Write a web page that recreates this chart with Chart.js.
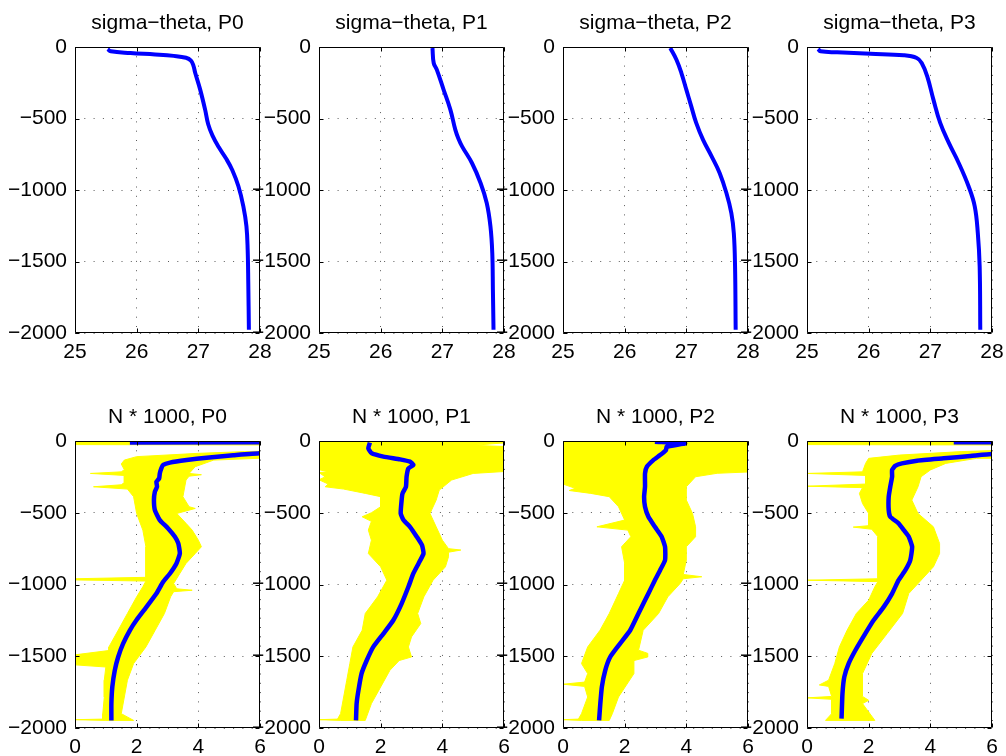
<!DOCTYPE html>
<html>
<head>
<meta charset="utf-8">
<title>sigma-theta and N profiles</title>
<script src="https://cdn.jsdelivr.net/npm/chart.js@4/dist/chart.umd.min.js"></script>
<style>
  body { margin: 0; background: #fff; }
  #fig { position: relative; width: 1006px; height: 756px; background: #fff; overflow: hidden; }
  #fig canvas { position: absolute; }
</style>
</head>
<body>
<div id="fig"></div>
<script>
// ---- data (depth in m, negative down) ----

const stations = ['P0', 'P1', 'P2', 'P3'];
const sigmaTicks = [25, 26, 27, 28];
const nTicks = [0, 2, 4, 6];
const depthTicks = [-2000, -1500, -1000, -500, 0];

// sigma-theta mean profiles
const sigmaDepthP0 = [-15, -30, -42, -52, -62, -75, -95, -130, -182, -298, -438, -540, -620, -700, -780, -860, -974, -1114, -1254, -1417, -1650, -1977];
const sigmaP0 = [25.53, 25.58, 25.9, 26.3, 26.6, 26.8, 26.88, 26.92, 26.95, 27.03, 27.11, 27.16, 27.23, 27.33, 27.45, 27.55, 27.65, 27.73, 27.78, 27.80, 27.81, 27.82];
const sigmaDepthP1 = [-7, -112, -158, -298, -438, -578, -640, -695, -811, -951, -1091, -1254, -1441, -1697, -1977];
const sigmaP1 = [26.84, 26.86, 26.91, 27.02, 27.13, 27.21, 27.26, 27.32, 27.48, 27.62, 27.72, 27.78, 27.81, 27.82, 27.83];
const sigmaDepthP2 = [-7, -89, -182, -298, -415, -531, -648, -765, -881, -1021, -1161, -1301, -1534, -1977];
const sigmaP2 = [26.74, 26.84, 26.92, 27.00, 27.08, 27.16, 27.27, 27.41, 27.54, 27.65, 27.73, 27.77, 27.79, 27.80];
const sigmaDepthP3 = [-14, -30, -37, -47, -58, -77, -112, -205, -368, -531, -671, -811, -974, -1114, -1301, -1534, -1977];
const sigmaP3 = [25.18, 25.22, 25.49, 26.03, 26.57, 26.78, 26.86, 26.95, 27.05, 27.16, 27.30, 27.46, 27.62, 27.72, 27.77, 27.80, 27.81];

// N * 1000 mean profiles
const nMeanDepthP0 = [-10, -14, -70, -86, -100, -116, -133, -151, -167, -191, -226, -260, -284, -319, -353, -412, -481, -551, -609, -667, -714, -784, -853, -923, -981, -1063, -1156, -1249, -1319, -1412, -1505, -1598, -1714, -1830, -1947];
const nMeanP0 = [1.78, 14, 14, 6.0, 5.13, 4.27, 3.62, 3.08, 2.86, 2.80, 2.75, 2.73, 2.64, 2.66, 2.59, 2.56, 2.59, 2.75, 3.02, 3.24, 3.35, 3.40, 3.29, 3.08, 2.86, 2.64, 2.32, 1.99, 1.78, 1.56, 1.40, 1.29, 1.21, 1.18, 1.18];
const nMeanDepthP1 = [-12, -51, -86, -109, -128, -144, -167, -191, -249, -319, -365, -412, -505, -551, -598, -667, -726, -784, -853, -923, -1016, -1133, -1249, -1342, -1435, -1528, -1621, -1737, -1830, -1947];
const nMeanP1 = [1.65, 1.60, 1.71, 2.09, 2.63, 2.95, 3.06, 2.90, 2.84, 2.82, 2.71, 2.68, 2.65, 2.74, 2.95, 3.17, 3.34, 3.39, 3.23, 3.06, 2.90, 2.68, 2.41, 2.09, 1.76, 1.55, 1.38, 1.28, 1.22, 1.20];
const nMeanDepthP2 = [-5, -16, -40, -63, -98, -133, -179, -226, -319, -388, -458, -528, -598, -667, -737, -830, -900, -970, -1063, -1179, -1319, -1412, -1505, -1598, -1714, -1830, -1947];
const nMeanP2 = [2.98, 3.96, 3.36, 3.34, 3.15, 2.93, 2.72, 2.66, 2.66, 2.63, 2.66, 2.77, 2.98, 3.20, 3.31, 3.31, 3.15, 2.98, 2.77, 2.50, 2.18, 1.85, 1.53, 1.37, 1.26, 1.21, 1.17];
const nMeanDepthP3 = [-9, -12, -70, -91, -105, -121, -137, -156, -174, -202, -249, -319, -388, -481, -528, -574, -621, -667, -737, -830, -900, -970, -1063, -1156, -1249, -1342, -1458, -1551, -1644, -1760, -1935];
const nMeanP3 = [4.76, 14, 14, 6.0, 5.30, 4.43, 3.57, 3.08, 2.86, 2.76, 2.76, 2.70, 2.65, 2.65, 2.70, 2.97, 3.14, 3.30, 3.41, 3.35, 3.19, 2.97, 2.76, 2.49, 2.16, 1.89, 1.57, 1.35, 1.21, 1.15, 1.12];

// spread of the individual N profiles: left (low) and right (high) edge
const nLoDepthP0 = [0, -25, -28, -66, -74, -86, -109, -133, -160, -200, -215, -226, -240, -290, -305, -319, -335, -388, -505, -621, -737, -853, -950, -960, -968, -976, -1016, -1086, -1202, -1319, -1435, -1460, -1490, -1560, -1575, -1667, -1784, -1900, -1938, -1942, -1947];
const nLoP0 = [0, 0, 7, 7, 5.5, 4.0, 2.0, 1.6, 1.5, 1.6, 1.5, 0.5, 1.6, 1.6, 1.5, 0.6, 1.7, 1.9, 2.0, 2.2, 2.3, 2.3, 2.3, 0, 0, 2.3, 2.2, 2.0, 1.7, 1.4, 1.1, 1.1, 0, 0, 1.0, 0.95, 0.95, 0.9, 0.9, 0, 1.0];
const nHiDepthP0 = [0, -105, -120, -133, -179, -226, -235, -245, -272, -388, -458, -470, -505, -574, -621, -691, -737, -784, -853, -923, -993, -1030, -1040, -1050, -1086, -1202, -1319, -1435, -1551, -1667, -1784, -1900, -1947];
const nHiP0 = [20, 20, 6.0, 4.5, 3.9, 3.7, 4.1, 3.7, 3.6, 3.5, 3.7, 3.9, 3.3, 3.6, 3.8, 4.0, 4.1, 3.9, 3.6, 3.4, 3.2, 3.3, 3.8, 3.2, 3.1, 2.9, 2.6, 2.3, 1.9, 1.7, 1.6, 1.5, 1.9];

const nLoDepthP1 = [0, -200, -214, -220, -250, -270, -300, -319, -335, -365, -388, -458, -500, -528, -560, -621, -691, -784, -877, -970, -1086, -1202, -1319, -1435, -1551, -1667, -1784, -1900, -1938, -1942, -1947];
const nLoP1 = [0, 0, 0.3, 0, 0.2, 0, 0.3, 0.2, 0.8, 1.5, 2.0, 2.0, 1.7, 1.4, 1.7, 1.6, 1.7, 1.6, 2.0, 2.2, 1.9, 1.5, 1.4, 1.1, 1.0, 0.9, 0.8, 0.7, 0.6, 0, 0.7];
const nHiDepthP1 = [0, -10, -30, -40, -60, -100, -180, -210, -226, -272, -342, -412, -505, -598, -691, -750, -760, -775, -807, -877, -970, -1086, -1202, -1272, -1365, -1435, -1505, -1530, -1598, -1714, -1830, -1947];
const nHiP1 = [6.2, 6.2, 5.0, 6.2, 6.2, 6.2, 6.2, 6.2, 5.0, 4.3, 3.9, 3.8, 3.6, 3.8, 4.0, 4.2, 4.6, 4.2, 4.2, 4.1, 3.7, 3.4, 3.2, 3.3, 3.0, 2.9, 3.0, 2.6, 2.3, 2.0, 1.7, 1.5];

const nLoDepthP2 = [0, -300, -330, -345, -365, -388, -458, -551, -598, -621, -667, -737, -853, -970, -1063, -1202, -1319, -1435, -1551, -1621, -1680, -1695, -1710, -1784, -1900, -1938, -1942, -1947];
const nLoP2 = [0, 0, 0.4, 0.2, 0.9, 1.5, 1.8, 2.0, 1.1, 2.1, 2.2, 1.9, 2.0, 2.0, 1.8, 1.5, 1.2, 0.8, 0.6, 0.8, 0.7, 0, 0.7, 0.8, 0.6, 0.5, 0, 0.6];
const nHiDepthP2 = [0, -144, -200, -214, -225, -249, -319, -412, -505, -598, -667, -737, -830, -930, -946, -960, -993, -1086, -1202, -1319, -1458, -1480, -1505, -1530, -1621, -1784, -1900, -1947];
const nHiP2 = [6.2, 6.2, 6.0, 6.2, 5.0, 4.3, 4.0, 4.0, 4.2, 4.3, 4.3, 4.0, 4.0, 3.9, 4.5, 3.9, 3.8, 3.4, 3.1, 2.6, 2.45, 2.75, 2.75, 2.3, 2.3, 1.8, 1.6, 1.5];

const nLoDepthP3 = [0, -25, -28, -60, -74, -98, -121, -156, -215, -226, -240, -300, -315, -325, -365, -435, -505, -590, -600, -615, -667, -784, -900, -960, -970, -980, -1016, -1109, -1202, -1319, -1435, -1551, -1667, -1700, -1710, -1780, -1790, -1800, -1900, -1947];
const nLoP3 = [0, 0, 7, 7, 5, 3.0, 2.0, 1.9, 1.8, 0, 1.9, 1.9, 0, 1.8, 1.7, 1.8, 2.0, 2.0, 1.5, 2.1, 2.3, 2.3, 2.3, 2.3, 0, 2.3, 2.2, 2.0, 1.6, 1.3, 1.05, 0.9, 0.7, 0.4, 0.7, 0.8, 0, 0.8, 0.8, 0.6];
const nHiDepthP3 = [0, -110, -121, -156, -202, -249, -319, -412, -505, -598, -714, -784, -877, -970, -1063, -1202, -1342, -1481, -1621, -1780, -1807, -1830, -1947];
const nHiP3 = [20, 20, 5.5, 4.5, 4.0, 3.7, 3.6, 3.4, 3.6, 4.1, 4.3, 4.3, 4.1, 3.7, 3.3, 3.1, 2.6, 2.1, 1.8, 1.8, 2.0, 1.8, 2.2];

// ---- layout ----
const plotLefts = [75, 319, 563, 807];
const plotWidth = 185;
const sideRoom = 75;
const titleRoom = 47;
const xAxisRoom = 34;
const rows = [
    { top: 0, plotHeight: 286 },
    { top: 394, plotHeight: 287 },
];

const BLUE = '#0000ff';
const YELLOW = '#ffff00';
const GRID = 'rgba(0,0,0,0.65)';
const FONT_SIZE = 21;

Chart.defaults.font.family = '"Liberation Sans", Arial, Helvetica, sans-serif';
Chart.defaults.font.size = FONT_SIZE;
Chart.defaults.color = '#000';

const fmt = v => String(v).replace('-', '\u2212');

function toPoints(values, depths) {
    return values.map((v, i) => ({ x: v, y: depths[i] }));
}

// closed outline: down the low edge, back up the high edge
function bandPoints(lo, loDepth, hi, hiDepth) {
    return toPoints(lo, loDepth).concat(toPoints(hi, hiDepth).reverse());
}

// MATLAB style box with inward ticks on all four sides
const boxFrame = {
    id: 'boxFrame',
    afterDraw(chart) {
        const { ctx, chartArea: a } = chart;
        const x = chart.scales.x, y = chart.scales.y;
        const L = Math.round(a.left) + 0.5, R = Math.round(a.right) - 0.5;
        const T = Math.round(a.top) + 0.5, B = Math.round(a.bottom) - 0.5;
        const len = 4;
        ctx.save();
        ctx.strokeStyle = '#000';
        ctx.lineWidth = 1;
        ctx.beginPath();
        ctx.rect(L, T, R - L, B - T);
        x.ticks.forEach(t => {
            const px = Math.round(x.getPixelForValue(t.value)) + 0.5;
            ctx.moveTo(px, B); ctx.lineTo(px, B - len);
            ctx.moveTo(px, T); ctx.lineTo(px, T + len);
        });
        y.ticks.forEach(t => {
            const py = Math.round(y.getPixelForValue(t.value)) + 0.5;
            ctx.moveTo(L, py); ctx.lineTo(L + len, py);
            ctx.moveTo(R, py); ctx.lineTo(R - len, py);
        });
        ctx.stroke();
        ctx.restore();
    }
};

function makePanel(row, col, title, datasets, xMin, xMax, xStep) {
    const r = rows[row];
    const canvas = document.createElement('canvas');
    canvas.width = sideRoom + plotWidth + sideRoom;
    canvas.height = titleRoom + r.plotHeight + xAxisRoom;
    canvas.style.left = (plotLefts[col] - sideRoom) + 'px';
    canvas.style.top = r.top + 'px';
    document.getElementById('fig').appendChild(canvas);

    return new Chart(canvas.getContext('2d'), {
        type: 'scatter',
        data: { datasets },
        options: {
            responsive: false,
            animation: false,
            events: [],
            layout: { padding: 0 },
            plugins: {
                legend: { display: false },
                tooltip: { enabled: false },
                title: {
                    display: true,
                    text: title,
                    color: '#000',
                    font: { size: FONT_SIZE, weight: 'normal', lineHeight: 1.2 },
                    padding: { top: 10.5, bottom: titleRoom - 10.5 - FONT_SIZE * 1.2 },
                },
            },
            scales: {
                x: {
                    type: 'linear',
                    position: 'bottom',
                    min: xMin,
                    max: xMax,
                    ticks: { stepSize: xStep, padding: 7, autoSkip: false, maxRotation: 0, callback: fmt },
                    grid: { color: GRID, drawTicks: false },
                    border: { display: false, dash: [1, 8.3] },
                    afterFit: s => { s.height = xAxisRoom; },
                },
                y: {
                    type: 'linear',
                    position: 'left',
                    min: depthTicks[0],
                    max: depthTicks[depthTicks.length - 1],
                    ticks: { stepSize: 500, padding: 8, autoSkip: false, callback: fmt },
                    grid: { color: GRID, drawTicks: false },
                    border: { display: false, dash: [1, 8.3] },
                    afterFit: s => { s.width = sideRoom; },
                },
                // empty axis on the right so the title centres over the box
                yRight: {
                    type: 'linear',
                    position: 'right',
                    min: depthTicks[0],
                    max: depthTicks[depthTicks.length - 1],
                    ticks: { display: false },
                    grid: { display: false, drawTicks: false },
                    border: { display: false },
                    afterFit: s => { s.width = sideRoom; },
                },
            },
        },
        plugins: [boxFrame],
    });
}

const sigmaSets = [
    [sigmaP0, sigmaDepthP0], [sigmaP1, sigmaDepthP1], [sigmaP2, sigmaDepthP2], [sigmaP3, sigmaDepthP3],
];
const nMeanSets = [
    [nMeanP0, nMeanDepthP0], [nMeanP1, nMeanDepthP1], [nMeanP2, nMeanDepthP2], [nMeanP3, nMeanDepthP3],
];
const nBandSets = [
    [nLoP0, nLoDepthP0, nHiP0, nHiDepthP0],
    [nLoP1, nLoDepthP1, nHiP1, nHiDepthP1],
    [nLoP2, nLoDepthP2, nHiP2, nHiDepthP2],
    [nLoP3, nLoDepthP3, nHiP3, nHiDepthP3],
];

stations.forEach((st, i) => {
    const [sv, sd] = sigmaSets[i];
    makePanel(0, i, 'sigma\u2212theta, ' + st, [{
        data: toPoints(sv, sd),
        showLine: true,
        borderColor: BLUE,
        borderWidth: 4,
        pointRadius: 0,
        tension: 0.4,
        clip: 0,
    }], sigmaTicks[0], sigmaTicks[sigmaTicks.length - 1], 1);

    const [mv, md] = nMeanSets[i];
    const [lo, loD, hi, hiD] = nBandSets[i];
    makePanel(1, i, 'N * 1000, ' + st, [
        {
            data: toPoints(mv, md),
            showLine: true,
            borderColor: BLUE,
            borderWidth: 4.5,
            pointRadius: 0,
            tension: 0.15,
            clip: 0,
            order: 0,
        },
        {
            data: bandPoints(lo, loD, hi, hiD),
            showLine: true,
            borderColor: YELLOW,
            backgroundColor: YELLOW,
            borderWidth: 1,
            pointRadius: 0,
            fill: 'shape',
            clip: 0,
            order: 1,
        },
    ], nTicks[0], nTicks[nTicks.length - 1], 2);
});
</script>
</body>
</html>
